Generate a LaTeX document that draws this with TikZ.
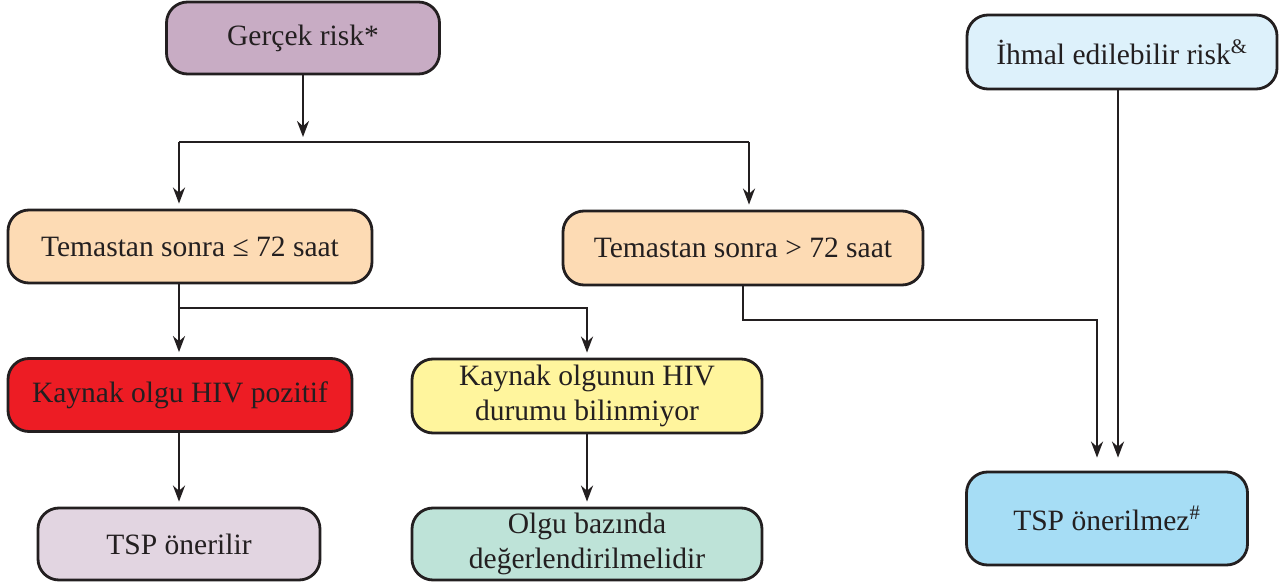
\documentclass[tikz,border=0pt]{standalone}
\usepackage{fontspec}
\setmainfont{Liberation Serif}
\usetikzlibrary{arrows.meta}

\definecolor{mor}{RGB}{200,172,196}
\definecolor{acikmavi}{RGB}{221,241,251}
\definecolor{seftali}{RGB}{253,219,180}
\definecolor{kirmizi}{RGB}{237,28,36}
\definecolor{sari}{RGB}{255,245,157}
\definecolor{lila}{RGB}{226,213,225}
\definecolor{mint}{RGB}{190,227,216}
\definecolor{mavi}{RGB}{166,221,245}
\definecolor{koyu}{RGB}{35,31,32}

\begin{document}
\begin{tikzpicture}[
   box/.style = {draw = koyu, line width = 1.6pt, rounded corners = 0.42cm,
                 align = center, inner sep = 0pt,
                 font = \fontsize{16.8}{19.5}\selectfont, text = koyu},
   ok/.style  = {line width = 1.4pt, koyu, -{Stealth[length = 0.32cm, width = 0.24cm]}, shorten > = 0.1cm},
   hat/.style = {line width = 1.4pt, koyu}
   ]
\useasboundingbox (0,0) rectangle (25.64,-11.72);

% kutular
\node[box, fill = mor,      minimum width = 5.46cm, minimum height = 1.44cm] (gercek)     at (6.06,-0.76)  {Gerçek risk*};
\node[box, fill = acikmavi, minimum width = 6.20cm, minimum height = 1.48cm] (ihmal)      at (22.44,-1.04) {İhmal edilebilir risk\textsuperscript{\&}};
\node[box, fill = seftali,  minimum width = 7.28cm, minimum height = 1.46cm] (kisa)       at (3.80,-4.93)  {Temastan sonra ≤ 72 saat};
\node[box, fill = seftali,  minimum width = 7.20cm, minimum height = 1.48cm] (uzun)       at (14.86,-4.96) {Temastan sonra > 72 saat};
\node[box, fill = kirmizi,  minimum width = 6.88cm, minimum height = 1.46cm] (pozitif)    at (3.60,-7.90)  {Kaynak olgu HIV pozitif};
\node[box, fill = sari,     minimum width = 7.00cm, minimum height = 1.48cm] (bilinmiyor) at (11.74,-7.92) {Kaynak olgunun HIV\\durumu bilinmiyor};
\node[box, fill = lila,     minimum width = 5.64cm, minimum height = 1.44cm] (onerilir)   at (3.58,-10.88) {TSP önerilir};
\node[box, fill = mint,     minimum width = 7.00cm, minimum height = 1.44cm] (bazinda)    at (11.74,-10.88) {Olgu bazında\\değerlendirilmelidir};
\node[box, fill = mavi,     minimum width = 5.62cm, minimum height = 1.86cm] (onerilmez)  at (22.14,-10.37) {TSP önerilmez\textsuperscript{\#}};

% ayrilma noktalari
\coordinate (sol1) at (3.58,-2.84);
\coordinate (sag1) at (14.98,-2.84);
\coordinate (sol2) at (3.58,-6.16);
\coordinate (sag3) at (21.94,-6.40);

% baglantilar
\draw[ok] (gercek.south) -- (gercek.south |- sol1);
\draw[hat] (sol1) -- (sag1);
\draw[ok] (sol1) -- (sol1 |- kisa.north);
\draw[ok] (sag1) -- (sag1 |- uzun.north);

\draw[ok] (sol1 |- kisa.south) -- (sol1 |- pozitif.north);
\draw[ok] (sol2) -| (bilinmiyor.north);
\draw[ok] (sol1 |- pozitif.south) -- (sol1 |- onerilir.north);
\draw[ok] (bilinmiyor.south) -- (bazinda.north);

\draw[ok, shorten > = 0.26cm] (uzun.south) |- (sag3) -- (sag3 |- onerilmez.north);
\draw[ok, shorten > = 0.26cm] ([xshift = -0.08cm]ihmal.south) -- ([xshift = -0.08cm]ihmal.south |- onerilmez.north);
\end{tikzpicture}
\end{document}
